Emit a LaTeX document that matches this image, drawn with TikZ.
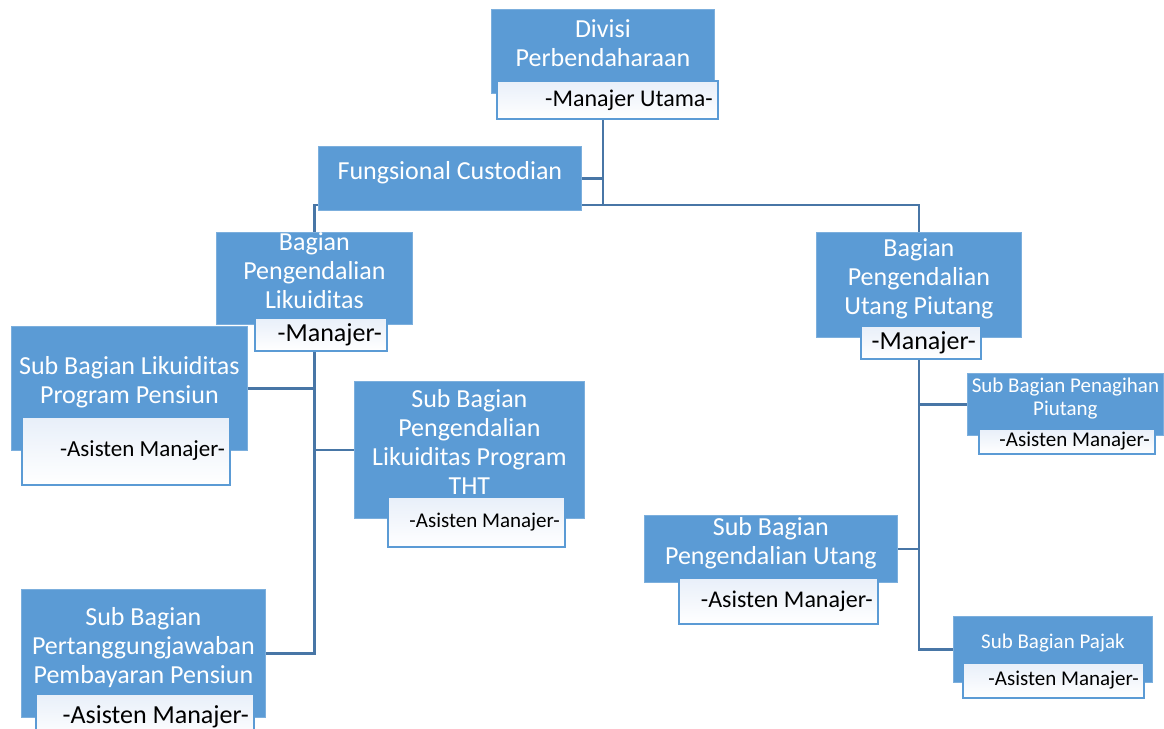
\documentclass[tikz,border=0pt]{standalone}
\usepackage{fontspec}
\setmainfont{Carlito}
\usepackage{tikz}
\usetikzlibrary{backgrounds, calc}
\definecolor{office}{RGB}{91, 155, 213}
\definecolor{linkblue}{RGB}{72, 118, 166}
\definecolor{rolefill}{RGB}{232, 239, 249}

\tikzset{
  unit/.style={rectangle, fill=office, draw=office!80!white, line width=0.8pt,
    text=white, align=center, anchor=north west, inner sep=0pt, text depth=16pt,
    font=\fontsize{26}{29}\selectfont},
  small/.style={font=\fontsize{21}{23}\selectfont},
  role/.style={rectangle, draw=office, line width=1.6pt, top color=rolefill,
    bottom color=white, anchor=north west, inner ysep=0pt, inner xsep=5pt,
    align=flush right, text=black},
  link/.style={draw=linkblue, line width=2.4pt}
}

\begin{document}
\begin{tikzpicture}[x=1pt, y=-1pt]
  \path[use as bounding box, clip] (0, 0) rectangle (1164, 728);

  % top of the tree
  \node[unit, minimum width=223pt, minimum height=84pt] (divisi) at (491, 9)
    {Divisi\\Perbendaharaan};
  \node[role, text width=211pt, minimum height=38pt, font=\fontsize{24}{28}\selectfont]
    (utama) at (496, 80) {-Manajer Utama-};
  \node[unit, minimum width=263pt, minimum height=64pt] (fungsional) at (318, 146)
    {Fungsional Custodian};

  % left branch
  \node[unit, minimum width=196pt, minimum height=89pt] (likuiditas) at (216, 232)
    {Bagian\\Pengendalian\\Likuiditas};
  \node[role, text width=122pt, minimum height=33pt, font=\fontsize{26}{29}\selectfont]
    (likmgr) at (254, 317) {-Manajer-};
  \node[unit, minimum width=236pt, minimum height=124pt] (pensiun) at (11, 326)
    {Sub Bagian Likuiditas\\Program Pensiun};
  \node[role, text width=198pt, minimum height=68pt, font=\fontsize{23}{27}\selectfont]
    (pensiunmgr) at (21, 416) {-Asisten Manajer-};
  \node[unit, minimum width=230pt, minimum height=137pt] (tht) at (354, 381)
    {Sub Bagian\\Pengendalian\\Likuiditas Program\\THT};
  \node[role, text width=167pt, minimum height=50pt, font=\fontsize{21}{25}\selectfont]
    (thtmgr) at (387, 496) {-Asisten Manajer-};
  \node[unit, minimum width=244pt, minimum height=128pt] (bayar) at (21, 589)
    {Sub Bagian\\Pertanggungjawaban\\Pembayaran Pensiun};
  \node[role, text width=208pt, minimum height=45pt, font=\fontsize{26}{29}\selectfont]
    (bayarmgr) at (35, 693) {-Asisten Manajer-};

  % right branch
  \node[unit, minimum width=205pt, minimum height=105pt] (utangpiutang) at (816, 232)
    {Bagian\\Pengendalian\\Utang Piutang};
  \node[role, text width=110pt, minimum height=33pt, font=\fontsize{26}{29}\selectfont]
    (upmgr) at (860, 325) {-Manajer-};
  \node[unit, small, minimum width=196pt, minimum height=62pt] (penagihan) at (967, 373)
    {Sub Bagian Penagihan\\Piutang};
  \node[role, text width=166pt, minimum height=25pt, font=\fontsize{21}{25}\selectfont]
    (penagihanmgr) at (978, 428) {-Asisten Manajer-};
  \node[unit, minimum width=253pt, minimum height=67pt] (utang) at (644, 515)
    {Sub Bagian\\Pengendalian Utang};
  \node[role, text width=189pt, minimum height=46pt, font=\fontsize{24}{28}\selectfont]
    (utangmgr) at (678, 577) {-Asisten Manajer-};
  \node[unit, small, minimum width=199pt, minimum height=66pt] (pajak) at (953, 616)
    {Sub Bagian Pajak};
  \node[role, text width=171pt, minimum height=35pt, font=\fontsize{21}{25}\selectfont]
    (pajakmgr) at (962, 662) {-Asisten Manajer-};

  \coordinate (hub) at (divisi.south |- 0, 205);

  \begin{scope}[on background layer]
    \draw[link] (divisi.south) -- (hub);
    \draw[link] (fungsional.east) -- (fungsional.east -| hub);
    \draw[link] (likuiditas.north) |- (hub) -| (utangpiutang.north);
    % under Likuiditas
    \draw[link] (likuiditas.south) |- (bayar.east);
    \draw[link] (pensiun.east) -- (pensiun.east -| likuiditas.south);
    \draw[link] (tht.west) -- (tht.west -| likuiditas.south);
    % under Utang Piutang
    \draw[link] (utangpiutang.south) |- (pajak.west);
    \draw[link] (penagihan.west) -- (penagihan.west -| utangpiutang.south);
    \draw[link] (utang.east) -- (utang.east -| utangpiutang.south);
  \end{scope}
\end{tikzpicture}
\end{document}
